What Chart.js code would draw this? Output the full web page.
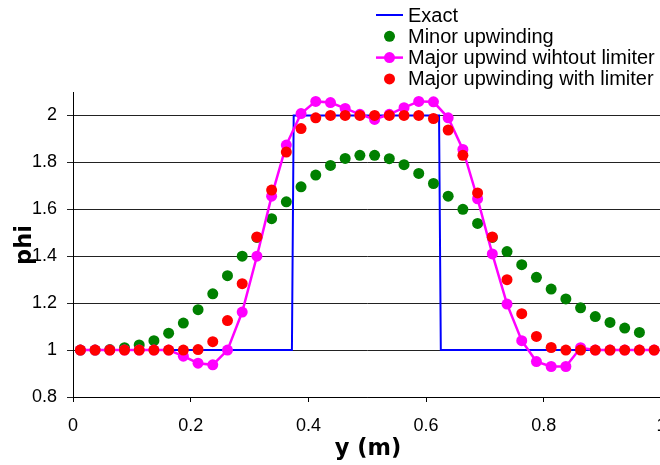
<!DOCTYPE html>
<html>
<head>
<meta charset="utf-8">
<script src="https://cdn.jsdelivr.net/npm/chart.js@4.4.1/dist/chart.umd.min.js"></script>
<style>
  html, body { margin: 0; padding: 0; overflow: hidden; background: #fff; }
  #wrap { width: 667px; height: 465px; }
</style>
</head>
<body>
<div id="wrap"><canvas id="c" width="667" height="465"></canvas></div>
<script>
// ---- data ----
const yPositions = [0.0125,0.0375,0.0625,0.0875,0.1125,0.1375,0.1625,0.1875,0.2125,0.2375,
  0.2625,0.2875,0.3125,0.3375,0.3625,0.3875,0.4125,0.4375,0.4625,0.4875,
  0.5125,0.5375,0.5625,0.5875,0.6125,0.6375,0.6625,0.6875,0.7125,0.7375,
  0.7625,0.7875,0.8125,0.8375,0.8625,0.8875,0.9125,0.9375,0.9625,0.9875];

const exactX = [0.0125, 0.372, 0.375, 0.622, 0.625, 0.9875];
const exactPhi = [1, 1, 2, 2, 1, 1];

const minorUpwinding = [1.0,1.0,1.002,1.01,1.022,1.04,1.072,1.115,1.172,1.24,
  1.317,1.40,1.48,1.56,1.632,1.696,1.746,1.787,1.817,1.83,
  1.83,1.816,1.79,1.753,1.71,1.656,1.60,1.54,1.48,1.42,
  1.364,1.31,1.26,1.218,1.18,1.143,1.118,1.094,1.075,null];

const majorNoLimiter = [1.0,1.0,1.0,1.0,1.0,1.0,1.0,0.974,0.944,0.937,
  1.0,1.162,1.40,1.656,1.874,2.008,2.06,2.055,2.03,2.005,
  1.983,2.005,2.033,2.06,2.058,1.99,1.855,1.645,1.41,1.196,
  1.04,0.951,0.93,0.93,1.01,1.0,1.0,1.0,1.0,1.0];

const majorWithLimiter = [1.0,1.0,1.0,1.0,1.0,1.0,1.0,1.0,1.002,1.036,
  1.126,1.283,1.482,1.682,1.844,1.944,1.99,2.0,2.0,2.0,
  2.0,2.0,2.0,2.0,1.987,1.938,1.83,1.67,1.482,1.30,
  1.155,1.058,1.011,1.0,1.0,1.0,1.0,1.0,1.0,1.0];

const xTicks = [0, 0.2, 0.4, 0.6, 0.8, 1];
const yTicks = [0.8, 1, 1.2, 1.4, 1.6, 1.8, 2];
const seriesNames = ['Exact', 'Minor upwinding', 'Major upwind wihtout limiter', 'Major upwinding with limiter'];
const xTitle = 'y (m)';
const yTitle = 'phi';

function pts(xs, ys) {
  const out = [];
  for (let i = 0; i < xs.length; i++) if (ys[i] !== null) out.push({x: xs[i], y: ys[i]});
  return out;
}

const customDecor = {
  id: 'customDecor',
  afterDraw(chart) {
    const ctx = chart.ctx;
    ctx.save();
    // legend
    const rowY0 = 15, rowH = 21.3;
    chart.data.datasets.forEach((ds, i) => {
      const y = rowY0 + i * rowH;
      if (ds.showLine !== false) {
        ctx.strokeStyle = ds.borderColor;
        ctx.lineWidth = ds.borderWidth;
        ctx.beginPath();
        ctx.moveTo(376, y);
        ctx.lineTo(403, y);
        ctx.stroke();
      }
      if (ds.pointRadius > 0) {
        ctx.fillStyle = ds.pointBackgroundColor;
        ctx.beginPath();
        ctx.arc(389.5, y, ds.pointRadius, 0, Math.PI * 2);
        ctx.fill();
      }
      ctx.fillStyle = '#000';
      ctx.font = '20px "Liberation Sans", Arial, sans-serif';
      ctx.textBaseline = 'middle';
      ctx.textAlign = 'left';
      ctx.fillText(ds.label, 408, y + 1);
    });
    // axis titles
    ctx.font = 'bold 22.5px "DejaVu Sans", Verdana, sans-serif';
    ctx.fillStyle = '#000';
    ctx.textAlign = 'center';
    ctx.textBaseline = 'middle';
    ctx.fillText(xTitle, 368, 449);
    ctx.translate(25, 245);
    ctx.rotate(-Math.PI / 2);
    ctx.fillText(yTitle, 0, 0);
    ctx.restore();
  }
};

new Chart(document.getElementById('c'), {
  type: 'scatter',
  data: {
    datasets: [
      { label: seriesNames[0], data: pts(exactX, exactPhi), showLine: true,
        borderColor: '#0000FF', borderWidth: 2, pointRadius: 0, pointBackgroundColor: '#0000FF', order: 4 },
      { label: seriesNames[1], data: pts(yPositions, minorUpwinding), showLine: false,
        pointRadius: 5.5, pointBackgroundColor: '#008000', pointBorderWidth: 0, borderColor: '#008000', order: 3 },
      { label: seriesNames[2], data: pts(yPositions, majorNoLimiter), showLine: true,
        borderColor: '#FF00FF', borderWidth: 2.5, pointRadius: 5.5, pointBackgroundColor: '#FF00FF', pointBorderWidth: 0, order: 2 },
      { label: seriesNames[3], data: pts(yPositions, majorWithLimiter), showLine: false,
        pointRadius: 5.5, pointBackgroundColor: '#FF0000', pointBorderWidth: 0, borderColor: '#FF0000', order: 1 }
    ]
  },
  options: {
    responsive: false,
    animation: false,
    devicePixelRatio: 1,
    layout: { padding: { top: 92, left: 0, right: 0, bottom: 0 } },
    plugins: { legend: { display: false }, tooltip: { enabled: false } },
    elements: { line: { tension: 0 }, point: { hoverRadius: 5.5 } },
    scales: {
      x: {
        type: 'linear', min: 0, max: 1,
        afterBuildTicks: (s) => { s.ticks = xTicks.map(v => ({value: v})); },
        afterFit: (s) => { s.height = 68; s.paddingLeft = 0; s.paddingRight = 0; },
        ticks: { color: '#000', font: { family: '"Liberation Sans", Arial, sans-serif', size: 18 }, padding: 13, maxRotation: 0,
          callback: (v) => String(v) },
        grid: { drawOnChartArea: false, drawTicks: true, tickLength: 5, color: '#000' },
        border: { display: true, color: '#000', width: 1 }
      },
      y: {
        type: 'linear', min: 0.8, max: 2.1,
        afterBuildTicks: (s) => { s.ticks = yTicks.map(v => ({value: v})); },
        afterFit: (s) => { s.width = 73; },
        ticks: { color: '#000', font: { family: '"Liberation Sans", Arial, sans-serif', size: 18 }, padding: 10,
          callback: (v) => String(v) },
        grid: { drawOnChartArea: true, drawTicks: true, tickLength: 6, color: '#222', lineWidth: 1 },
        border: { display: true, color: '#000', width: 1 }
      }
    }
  },
  plugins: [customDecor]
});
</script>
</body>
</html>
